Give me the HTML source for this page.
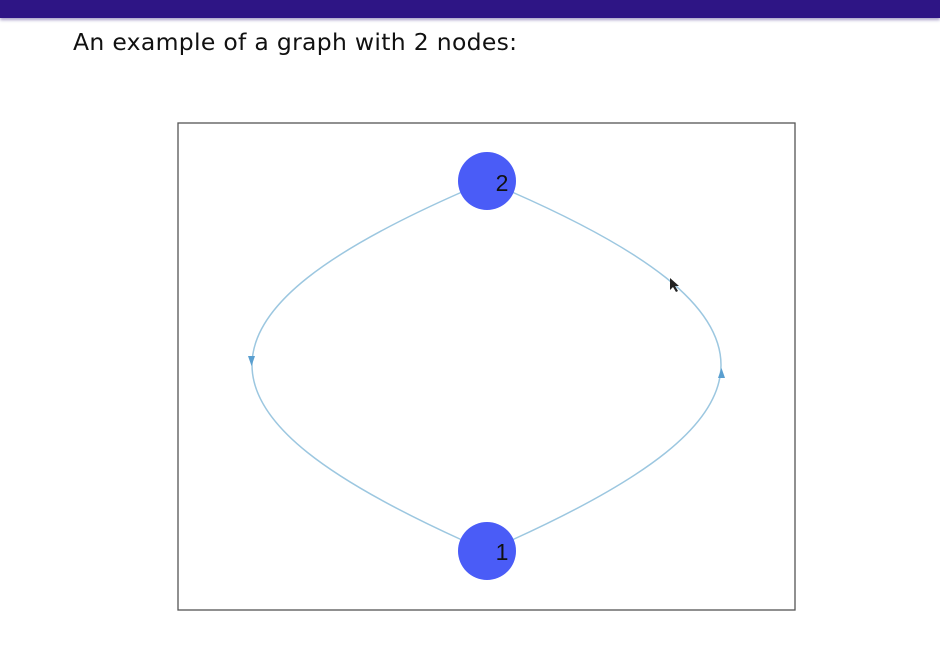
<!DOCTYPE html>
<html><head><style>
html,body{margin:0;padding:0;width:940px;height:661px;background:#fff;overflow:hidden}
.bar{position:absolute;left:0;top:0;width:940px;height:18px;background:#2e1585;box-shadow:0 2px 3px #a8a0c8}
.t{position:absolute;left:73px;top:28px;font-family:"DejaVu Sans","Liberation Sans",sans-serif;font-size:23.5px;letter-spacing:0.3px;color:#111}
</style></head><body>
<div class="bar"></div>
<div class="t">An example of a graph with 2 nodes:</div>
<svg width="940" height="661" style="position:absolute;left:0;top:0">
<rect x="178" y="123" width="617" height="487" fill="none" stroke="#555" stroke-width="1.3"/>
<path d="M462,192 C330,250 252,305 252,365 C252,425 330,480 462,540" fill="none" stroke="#9cc7e0" stroke-width="1.5"/>
<path d="M512,192 C644,250 721,305 721,365 C721,425 644,480 512,540" fill="none" stroke="#9cc7e0" stroke-width="1.5"/>
<polygon points="248,356 255,356 251.5,366" fill="#5a9fd0"/>
<polygon points="718,378 725,378 721.5,368" fill="#5a9fd0"/>
<circle cx="487" cy="181" r="29" fill="#4a5cf7"/>
<circle cx="487" cy="551" r="29" fill="#4a5cf7"/>
<text x="502" y="191" font-family="Liberation Sans,sans-serif" font-size="23" fill="#111" text-anchor="middle">2</text>
<text x="502" y="560" font-family="Liberation Sans,sans-serif" font-size="23" fill="#111" text-anchor="middle">1</text>
<polygon points="670,278 670,290 673,287 676,292 678,291 675,286 679,286" fill="#222"/>
</svg>
</body></html>
